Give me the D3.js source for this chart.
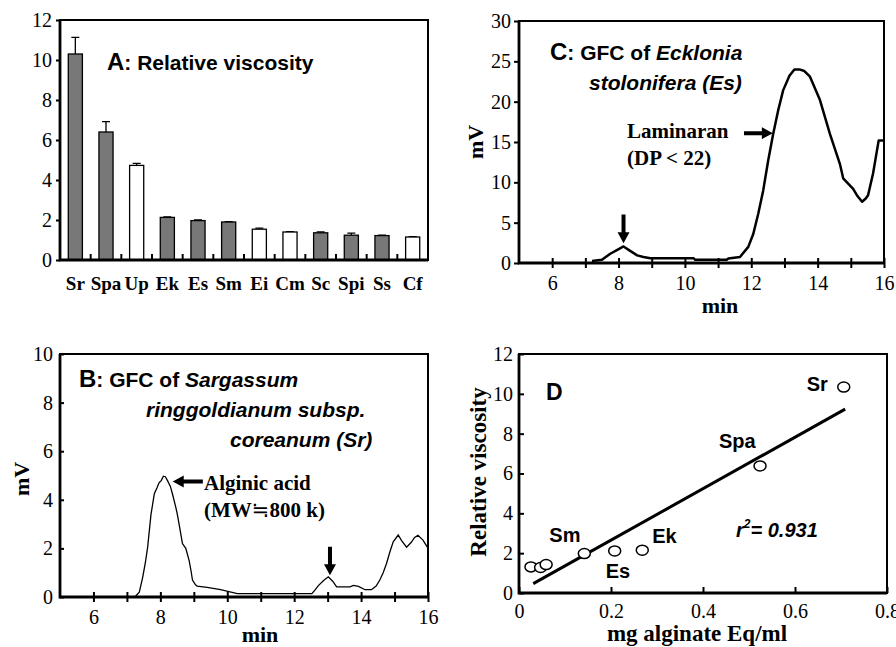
<!DOCTYPE html>
<html>
<head>
<meta charset="utf-8">
<title>Seaweed viscosity and GFC</title>
<script src="https://d3js.org/d3.v7.min.js"></script>
<style>
  body { margin: 0; background: #fff; }
  .tick text { font-family: "Liberation Serif", "Times New Roman", serif; font-size: 20px; fill: #000; }
  .sans { font-family: "Liberation Sans", Arial, sans-serif; font-weight: bold; }
  .serif { font-family: "Liberation Serif", "Times New Roman", serif; font-weight: bold; }
</style>
</head>
<body>
<svg width="896" height="647"></svg>
<script>
// ---- Panel A: relative viscosity ----
var species = ["Sr", "Spa", "Up", "Ek", "Es", "Sm", "Ei", "Cm", "Sc", "Spi", "Ss", "Cf"];
var viscosity = [10.3, 6.4, 4.73, 2.13, 1.97, 1.9, 1.54, 1.4, 1.36, 1.24, 1.22, 1.15];
var viscosityErr = [0.83, 0.52, 0.1, 0.03, 0.03, 0.02, 0.05, 0.02, 0.05, 0.1, 0.02, 0.02];
var brownAlga = [true, true, false, true, true, true, false, false, true, true, true, false];

// ---- Panel B: GFC of Sr ----
var chromBTime = [7.25, 7.37, 7.47, 7.55, 7.62, 7.72, 7.82, 7.9, 7.96, 8.03, 8.09, 8.15, 8.21, 8.3, 8.36, 8.46, 8.5, 8.56, 8.66, 8.76, 8.86, 8.92, 8.96, 9.05, 9.1, 9.4, 9.8, 10.3, 12.53, 12.63, 12.73, 12.88, 13.02, 13.15, 13.27, 13.67, 13.77, 13.92, 14.12, 14.31, 14.45, 14.56, 14.66, 14.76, 14.86, 14.96, 15.11, 15.21, 15.36, 15.5, 15.6, 15.7, 15.85, 15.98];
var chromBmV = [0.02, 0.2, 0.8, 1.4, 2.05, 3.4, 4.25, 4.5, 4.7, 4.8, 4.97, 4.95, 4.8, 4.55, 4.25, 3.7, 3.45, 3.0, 2.2, 2.0, 1.5, 1.05, 0.7, 0.5, 0.45, 0.4, 0.3, 0.14, 0.14, 0.3, 0.48, 0.68, 0.83, 0.65, 0.42, 0.42, 0.48, 0.44, 0.3, 0.3, 0.45, 0.7, 1.0, 1.38, 1.85, 2.27, 2.55, 2.32, 2.05, 2.25, 2.45, 2.54, 2.34, 2.05];

// ---- Panel C: GFC of Es ----
var chromCTime = [7.2, 7.5, 7.75, 7.95, 8.15, 8.35, 8.56, 8.75, 8.96, 10.26, 10.31, 11.26, 11.31, 11.66, 11.91, 12.06, 12.21, 12.36, 12.51, 12.66, 12.81, 12.96, 13.15, 13.3, 13.45, 13.6, 13.77, 14.07, 14.37, 14.67, 14.77, 15.07, 15.2, 15.34, 15.45, 15.52, 15.67, 15.84, 15.97];
var chromCmV = [0.25, 0.4, 1.15, 1.6, 2.05, 1.5, 0.95, 0.75, 0.6, 0.6, 0.4, 0.4, 0.55, 0.75, 2.0, 3.6, 6.1, 9.0, 12.7, 16.0, 18.9, 21.4, 23.2, 24.0, 24.0, 23.8, 23.1, 20.2, 16.0, 12.3, 10.5, 9.2, 8.3, 7.6, 8.0, 8.4, 11.1, 15.2, 15.2];

// ---- Panel D: viscosity vs alginate ----
var alginate = [0.026, 0.047, 0.059, 0.142, 0.208, 0.268, 0.524, 0.706];
var relVisc = [1.31, 1.28, 1.43, 1.98, 2.11, 2.15, 6.38, 10.34];
var pointNames = ["", "", "", "Sm", "Es", "Ek", "Spa", "Sr"];
var fitX = [0.031, 0.709];
var fitY = [0.47, 9.23];

var svg = d3.select("svg");
svg.append("rect").attr("width", 896).attr("height", 647).attr("fill", "#fff");

function panel(x, y, w, h) {
  var g = svg.append("g").attr("transform", "translate(" + x + "," + y + ")");
  g.w = w; g.h = h;
  return g;
}
function frame(g) {
  g.append("rect").attr("width", g.w).attr("height", g.h)
    .attr("fill", "none").attr("stroke", "#000").attr("stroke-width", 2);
  g.append("path").attr("d", "M0,0V" + g.h + "H" + g.w)
    .attr("fill", "none").attr("stroke", "#000").attr("stroke-width", 2.8);
}
function styleAxis(sel) {
  sel.select(".domain").remove();
  sel.selectAll(".tick line").attr("stroke", "#000").attr("stroke-width", 2);
}
// filled arrow from (x1,y1) to tip (x2,y2)
function arrow(g, x1, y1, x2, y2) {
  var dx = x2 - x1, dy = y2 - y1, len = Math.sqrt(dx * dx + dy * dy);
  var ux = dx / len, uy = dy / len, px = -uy, py = ux;
  var hl = 11, hw = 6, sw = 2;
  var bx = x2 - ux * hl, by = y2 - uy * hl;
  var pts = [
    [x1 + px * sw, y1 + py * sw], [bx + px * sw, by + py * sw], [bx + px * hw, by + py * hw],
    [x2, y2],
    [bx - px * hw, by - py * hw], [bx - px * sw, by - py * sw], [x1 - px * sw, y1 - py * sw]
  ];
  g.append("path").attr("d", "M" + pts.join("L") + "Z").attr("fill", "#000");
}
function timeAxis(g, x) {
  var ax = g.append("g").attr("transform", "translate(0," + g.h + ")")
    .call(d3.axisBottom(x).tickValues(d3.range(6, 17)).tickSize(5).tickPadding(8)
      .tickFormat(function(d) { return d % 2 === 0 ? d : ""; }));
  styleAxis(ax);
  ax.selectAll(".tick line").attr("y1", -5);
}

// ===== A =====
var gA = panel(60, 20, 368, 240);
var xA = d3.scaleBand().domain(species).range([0, gA.w]).paddingInner(0.54).paddingOuter(0.27);
var yA = d3.scaleLinear().domain([0, 12]).range([gA.h, 0]);

gA.selectAll(".err").data(species).enter().append("path")
  .attr("d", function(d, i) {
    var cx = xA(d) + xA.bandwidth() / 2, top = yA(viscosity[i] + viscosityErr[i]);
    return "M" + cx + "," + yA(viscosity[i]) + "V" + top + "M" + (cx - 4) + "," + top + "H" + (cx + 4);
  })
  .attr("stroke", "#000").attr("stroke-width", 1.3).attr("fill", "none");

gA.selectAll(".bar").data(species).enter().append("rect")
  .attr("x", function(d) { return xA(d); })
  .attr("y", function(d, i) { return yA(viscosity[i]); })
  .attr("width", xA.bandwidth())
  .attr("height", function(d, i) { return gA.h - yA(viscosity[i]); })
  .attr("fill", function(d, i) { return brownAlga[i] ? "#787878" : "#fff"; })
  .attr("stroke", "#000").attr("stroke-width", 1.3);

var axA = gA.append("g").call(d3.axisLeft(yA).tickValues(d3.range(0, 13, 2)).tickSize(4).tickPadding(4));
styleAxis(axA);
gA.selectAll(".bound").data(d3.range(1, species.length)).enter().append("line")
  .attr("x1", function(i) { return i * xA.step(); })
  .attr("x2", function(i) { return i * xA.step(); })
  .attr("y1", gA.h).attr("y2", gA.h - 6)
  .attr("stroke", "#000").attr("stroke-width", 2);
gA.selectAll(".cat").data(species).enter().append("text")
  .attr("class", "serif").attr("font-size", 19).attr("text-anchor", "middle")
  .attr("x", function(d) { return xA(d) + xA.bandwidth() / 2; })
  .attr("y", gA.h + 30).text(function(d) { return d; });
frame(gA);
var tA = gA.append("text").attr("class", "sans").attr("x", 47).attr("y", 50).attr("font-size", 21);
tA.append("tspan").attr("font-size", 24).text("A");
tA.append("tspan").text(": Relative viscosity");

// ===== C =====
var gC = panel(519, 21, 365, 242);
var xC = d3.scaleLinear().domain([5, 16]).range([0, gC.w]);
var yC = d3.scaleLinear().domain([0, 30]).range([gC.h, 0]);
var axCy = gC.append("g").call(d3.axisLeft(yC).tickValues(d3.range(0, 31, 5)).tickSize(5).tickPadding(3));
styleAxis(axCy);
timeAxis(gC, xC);
gC.append("path")
  .attr("d", d3.line().x(function(d, i) { return xC(d); }).y(function(d, i) { return yC(chromCmV[i]); })(chromCTime))
  .attr("fill", "none").attr("stroke", "#000").attr("stroke-width", 2.5).attr("stroke-linejoin", "round");
frame(gC);
var tC = gC.append("text").attr("class", "sans").attr("x", 31).attr("y", 39).attr("font-size", 21);
tC.append("tspan").attr("font-size", 24).text("C");
tC.append("tspan").text(": GFC of ");
tC.append("tspan").attr("font-style", "italic").text("Ecklonia");
gC.append("text").attr("class", "sans").attr("font-style", "italic").attr("font-size", 21)
  .attr("x", 70).attr("y", 69).text("stolonifera (Es)");
gC.append("text").attr("class", "serif").attr("font-size", 21).attr("x", 108).attr("y", 117).text("Laminaran");
gC.append("text").attr("class", "serif").attr("font-size", 21).attr("x", 108).attr("y", 144).text("(DP < 22)");
arrow(gC, xC(11.78), yC(16.1), xC(12.65), yC(16.1));
arrow(gC, xC(8.15), yC(6.0), xC(8.15), yC(2.45));
svg.append("text").attr("class", "serif").attr("font-size", 22).attr("text-anchor", "middle")
  .attr("transform", "translate(483,142) rotate(-90)").text("mV");
svg.append("text").attr("class", "serif").attr("font-size", 22).attr("text-anchor", "middle")
  .attr("x", 720).attr("y", 313).text("min");

// ===== B =====
var gB = panel(60, 354, 368, 243);
var xB = d3.scaleLinear().domain([5, 16]).range([0, gB.w]);
var yB = d3.scaleLinear().domain([0, 10]).range([gB.h, 0]);
var axBy = gB.append("g").call(d3.axisRight(yB).tickValues(d3.range(0, 11, 2)).tickSize(4).tickPadding(-11));
styleAxis(axBy);
axBy.selectAll(".tick text").attr("text-anchor", "end");
timeAxis(gB, xB);
gB.append("path")
  .attr("d", d3.line().x(function(d) { return xB(d); }).y(function(d, i) { return yB(chromBmV[i]); })(chromBTime))
  .attr("fill", "none").attr("stroke", "#000").attr("stroke-width", 1.3);
frame(gB);
var tB = gB.append("text").attr("class", "sans").attr("x", 19).attr("y", 33).attr("font-size", 21);
tB.append("tspan").attr("font-size", 24).text("B");
tB.append("tspan").text(": GFC of ");
tB.append("tspan").attr("font-style", "italic").text("Sargassum");
gB.append("text").attr("class", "sans").attr("font-style", "italic").attr("font-size", 21)
  .attr("x", 86).attr("y", 63).text("ringgoldianum subsp.");
gB.append("text").attr("class", "sans").attr("font-style", "italic").attr("font-size", 21)
  .attr("x", 170).attr("y", 93).text("coreanum (Sr)");
gB.append("text").attr("class", "serif").attr("font-size", 21).attr("x", 144).attr("y", 136).text("Alginic acid");
var mw = gB.append("text").attr("class", "serif").attr("font-size", 21).attr("x", 144).attr("y", 163);
mw.append("tspan").text("(MW");
mw.append("tspan").attr("font-family", "'DejaVu Sans', sans-serif").attr("font-weight", "normal").text("\u2252");
mw.append("tspan").text("800 k)");
arrow(gB, xB(9.27), yB(4.75), xB(8.37), yB(4.75));
arrow(gB, xB(13.07), yB(2.07), xB(13.07), yB(0.9));
svg.append("text").attr("class", "serif").attr("font-size", 22).attr("text-anchor", "middle")
  .attr("transform", "translate(29,479) rotate(-90)").text("mV");
svg.append("text").attr("class", "serif").attr("font-size", 22).attr("text-anchor", "middle")
  .attr("x", 260).attr("y", 642).text("min");

// ===== D =====
var gD = panel(519, 354, 368, 239);
var xD = d3.scaleLinear().domain([0, 0.8]).range([0, gD.w]);
var yD = d3.scaleLinear().domain([0, 12]).range([gD.h, 0]);
var axDy = gD.append("g").call(d3.axisRight(yD).tickValues(d3.range(0, 13, 2)).tickSize(5).tickPadding(-11));
styleAxis(axDy);
axDy.selectAll(".tick text").attr("text-anchor", "end");
var axDx = gD.append("g").attr("transform", "translate(0," + gD.h + ")")
  .call(d3.axisTop(xD).tickValues([0, 0.2, 0.4, 0.6, 0.8]).tickSize(6).tickFormat(d3.format("")));
styleAxis(axDx);
axDx.selectAll(".tick text").attr("y", 25).attr("dy", 0);
gD.append("path")
  .attr("d", d3.line().x(function(d) { return xD(d); }).y(function(d, i) { return yD(fitY[i]); })(fitX))
  .attr("stroke", "#000").attr("stroke-width", 3);
gD.selectAll(".pt").data(alginate).enter().append("ellipse")
  .attr("cx", function(d) { return xD(d); })
  .attr("cy", function(d, i) { return yD(relVisc[i]); })
  .attr("rx", 6).attr("ry", 5)
  .attr("fill", "#fff").attr("stroke", "#000").attr("stroke-width", 1.5);
frame(gD);
var labelOffset = { Sm: [-35, -12], Es: [-9, 27], Ek: [10, -7], Spa: [-41, -18], Sr: [-37, 4] };
gD.selectAll(".lbl").data(pointNames.filter(function(d) { return d; })).enter().append("text")
  .attr("class", "sans").attr("font-size", 20)
  .attr("x", function(d) { return xD(alginate[pointNames.indexOf(d)]) + labelOffset[d][0]; })
  .attr("y", function(d) { return yD(relVisc[pointNames.indexOf(d)]) + labelOffset[d][1]; })
  .text(function(d) { return d; });
gD.append("text").attr("class", "sans").attr("font-size", 23).attr("x", 27).attr("y", 46).text("D");
var rD = gD.append("text").attr("class", "sans").attr("font-style", "italic").attr("font-size", 20)
  .attr("x", 217).attr("y", 183);
rD.append("tspan").text("r");
rD.append("tspan").attr("font-size", 12).attr("dy", -9).text("2");
rD.append("tspan").attr("dy", 9).text("= 0.931");
svg.append("text").attr("class", "serif").attr("font-size", 23).attr("text-anchor", "middle")
  .attr("transform", "translate(486,472) rotate(-90)").text("Relative viscosity");
svg.append("text").attr("class", "serif").attr("font-size", 23).attr("text-anchor", "middle")
  .attr("x", 697).attr("y", 641).text("mg alginate Eq/ml");
</script>
</body>
</html>
